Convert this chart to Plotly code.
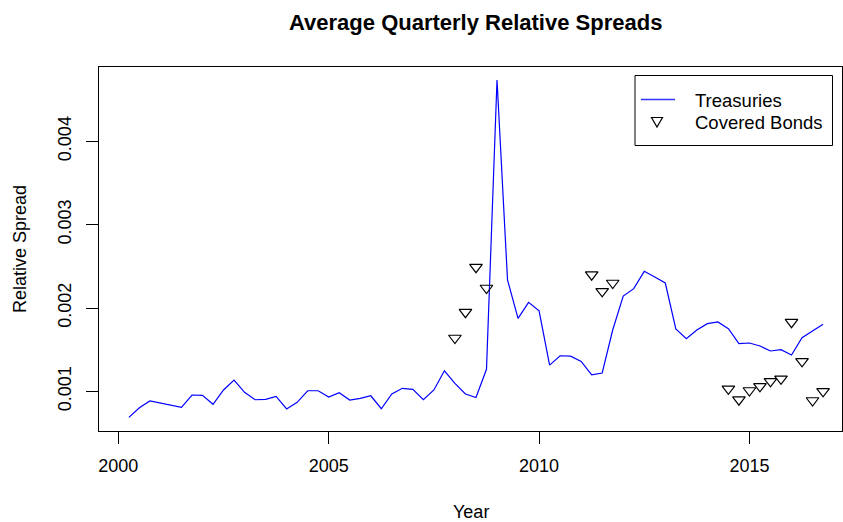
import plotly.graph_objects as go

# ---- data ----
treasury_start = 2000.25
treasury_values = [
    0.000688, 0.000803, 0.000884, 0.000860, 0.000832, 0.000808, 0.000956, 0.000952,
    0.000844, 0.001016, 0.001136, 0.000988, 0.000899, 0.000904, 0.000940, 0.000788,
    0.000868, 0.001007, 0.001007, 0.000932, 0.000983, 0.000896, 0.000916, 0.000947,
    0.000791, 0.000968, 0.001036, 0.001024, 0.000899, 0.001016, 0.001247, 0.001096,
    0.000968, 0.000925, 0.001264, 0.004736, 0.002336, 0.001876, 0.002068, 0.001966,
    0.001314, 0.001427, 0.001422, 0.001358, 0.001199, 0.001220, 0.001736, 0.002144,
    0.002232, 0.002440, 0.002372, 0.002300, 0.001748, 0.001632, 0.001736, 0.001812,
    0.001832, 0.001752, 0.001572, 0.001580, 0.001544, 0.001484, 0.001500, 0.001436,
    0.001644, 0.001724, 0.001804,
]
treasury_years = [treasury_start + 0.25 * i for i in range(len(treasury_values))]

covered_years = [2008.0, 2008.25, 2008.5, 2008.75, 2011.25, 2011.5, 2011.75,
                 2014.5, 2014.75, 2015.0, 2015.25, 2015.5, 2015.75, 2016.0,
                 2016.25, 2016.5, 2016.75]
covered_values = [0.00164, 0.00195, 0.00249, 0.00224, 0.00240, 0.00220, 0.00230,
                  0.00103, 0.00090, 0.00101, 0.00106, 0.00112, 0.00115, 0.00183,
                  0.00136, 0.00089, 0.00100]

x_ticks = [2000, 2005, 2010, 2015]
x_tick_labels = ["2000", "2005", "2010", "2015"]
y_ticks = [0.001, 0.002, 0.003, 0.004]
y_tick_labels = ["0.001", "0.002", "0.003", "0.004"]

title_text = "Average Quarterly Relative Spreads"
x_title = "Year"
y_title = "Relative Spread"
legend_labels = ["Treasuries", "Covered Bonds"]

FONT = "Liberation Sans"

fig = go.Figure()
fig.add_trace(go.Scatter(
    x=treasury_years, y=treasury_values, mode="lines",
    line=dict(color="#0000FF", width=1.2), name=legend_labels[0],
    showlegend=False,
))
fig.add_trace(go.Scatter(
    x=covered_years, y=covered_values, mode="markers",
    marker=dict(symbol="triangle-down-open", size=11, color="black",
                line=dict(color="black", width=1.2)),
    name=legend_labels[1], showlegend=False,
))

W, H = 843, 522
L, R, T, B = 99, 1, 67, 91
pw, ph = W - L - R, H - T - B


def px(xp):
    return (xp - L) / pw


def py(yp):
    return (H - B - yp) / ph


# manual legend (R style)
shapes = [
    dict(type="rect", xref="paper", yref="paper",
         x0=px(635), x1=px(832.5), y0=py(145.5), y1=py(75.5),
         line=dict(color="black", width=1), fillcolor="white", layer="above"),
    dict(type="line", xref="paper", yref="paper",
         x0=px(641), x1=px(675), y0=py(99.5), y1=py(99.5),
         line=dict(color="#3333FF", width=1.3), layer="above"),
    dict(type="path", xref="paper", yref="paper",
         path="M {} {} L {} {} L {} {} Z".format(
             px(651.5), py(117.5), px(662.5), py(117.5), px(657), py(127)),
         line=dict(color="black", width=1.2), layer="above"),
]

annotations = [
    dict(text=legend_labels[0], x=px(693), y=py(100), xref="paper", yref="paper",
         xanchor="left", yanchor="middle", showarrow=False,
         font=dict(family=FONT, size=18.5, color="black")),
    dict(text=legend_labels[1], x=px(693), y=py(122.5), xref="paper", yref="paper",
         xanchor="left", yanchor="middle", showarrow=False,
         font=dict(family=FONT, size=18.5, color="black")),
    dict(text=x_title, x=0.5, y=py(512), xref="paper", yref="paper",
         xanchor="center", yanchor="middle", showarrow=False,
         font=dict(family=FONT, size=18, color="black")),
    dict(text=y_title, x=px(20), y=py(249), xref="paper", yref="paper",
         xanchor="center", yanchor="middle", textangle=-90, showarrow=False,
         font=dict(family=FONT, size=18, color="black")),
    dict(text="<b>" + title_text + "</b>", x=px(476), y=py(22), xref="paper", yref="paper",
         xanchor="center", yanchor="middle", showarrow=False,
         font=dict(family=FONT, size=22, color="black")),
]

fig.update_layout(
    width=W, height=H,
    margin=dict(l=L, r=R, t=T, b=B, pad=0),
    paper_bgcolor="white", plot_bgcolor="white",
    font=dict(family=FONT, size=18, color="black"),
    shapes=shapes, annotations=annotations,
    showlegend=False,
)
fig.update_xaxes(
    range=[1999.54, 2017.2], showgrid=False, zeroline=False,
    showline=True, mirror=True, linecolor="black", linewidth=1.2,
    ticks="outside", ticklen=12, tickwidth=1, tickcolor="black",
    tickvals=x_ticks, ticktext=x_tick_labels, ticklabelstandoff=6,
    tickfont=dict(family=FONT, size=18, color="black"),
)
fig.update_yaxes(
    range=[0.000524, 0.004892], showgrid=False, zeroline=False,
    showline=True, mirror=True, linecolor="black", linewidth=1.2,
    ticks="outside", ticklen=12, tickwidth=1, tickcolor="black",
    tickvals=y_ticks, ticktext=y_tick_labels, tickangle=-90, ticklabelstandoff=8,
    tickfont=dict(family=FONT, size=18, color="black"),
)

fig.write_html(
    "out.html",
    config={"displayModeBar": False},
    post_script="document.body.style.margin='0';document.body.style.overflow='hidden';",
)
